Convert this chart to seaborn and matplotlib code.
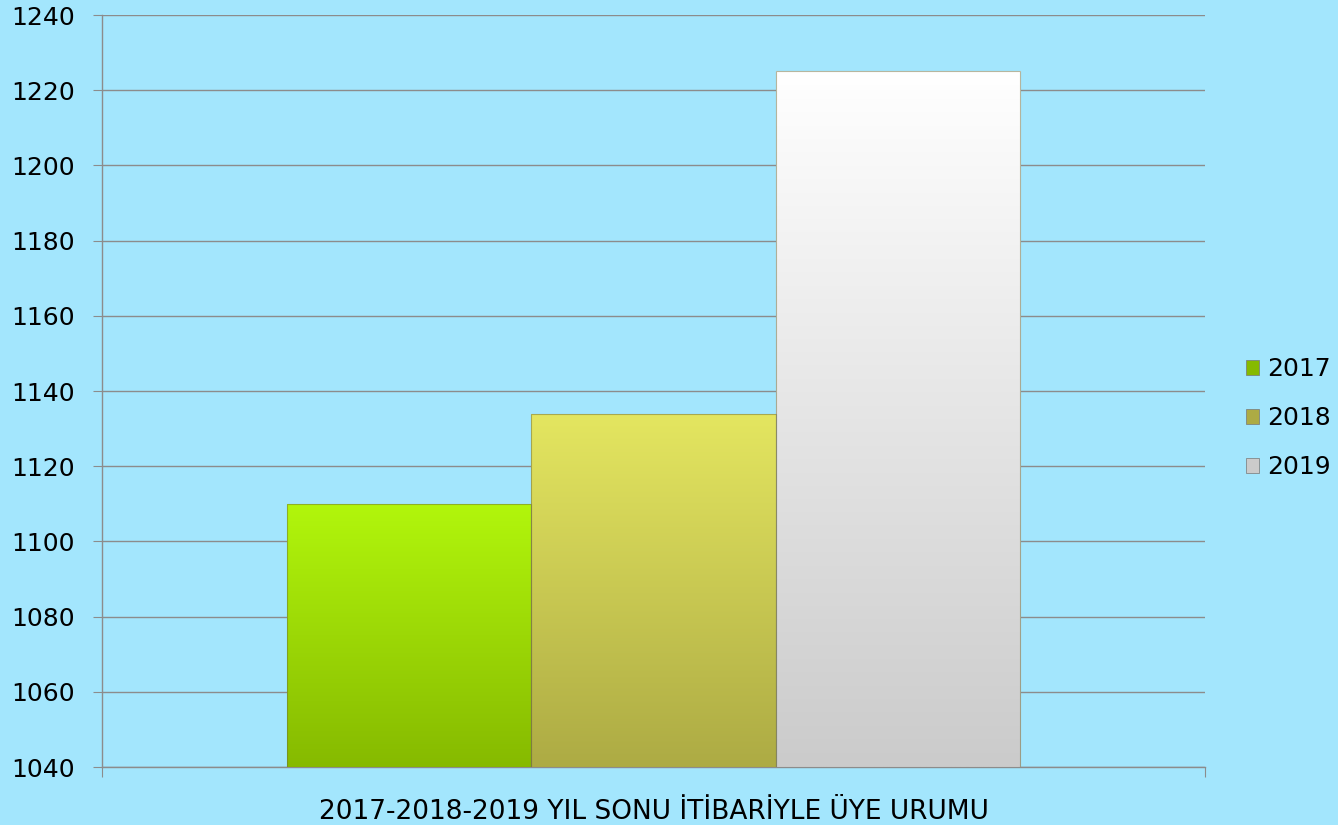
import numpy as np
import pandas as pd
import seaborn as sns
import matplotlib.pyplot as plt
from matplotlib.colors import LinearSegmentedColormap

# data
years = ["2017", "2018", "2019"]
members = [1110, 1134, 1225]
category = "2017-2018-2019 YIL SONU İTİBARİYLE ÜYE URUMU"

top_colors = ["#b2f60c", "#e4e660", "#ffffff"]
bottom_colors = ["#86ba00", "#adab44", "#cbcbcb"]
bg = "#a3e6fd"

df = pd.DataFrame({"cat": [category] * 3, "year": years, "members": members})

sns.set_style("white")
plt.rcParams["font.family"] = ["DejaVu Sans"]
plt.rcParams["text.color"] = "black"
plt.rcParams["axes.labelcolor"] = "black"
plt.rcParams["xtick.color"] = "black"
plt.rcParams["ytick.color"] = "black"

fig = plt.figure(figsize=(13.38, 8.25), dpi=100, facecolor=bg)
ax = fig.add_axes([0.0762, 0.0703, 0.8244, 0.9115])
ax.set_facecolor(bg)

sns.barplot(data=df, x="cat", y="members", hue="year", palette=bottom_colors,
            width=0.665, ax=ax, legend=False, edgecolor="none", zorder=3)

ax.set_ylim(1040, 1240)
ax.set_xlim(-0.5, 0.5)
ax.set_yticks(np.arange(1040, 1241, 20))
ax.grid(axis="y", color="#8c8c8c", linewidth=1.0, zorder=0)
ax.set_axisbelow(True)

# gradient fill for each bar, clipped to the bar
for patch, ctop, cbot in zip(ax.patches, top_colors, bottom_colors):
    x0, y0 = patch.get_x(), patch.get_y()
    w, h = patch.get_width(), patch.get_height()
    cmap = LinearSegmentedColormap.from_list("g", [cbot, ctop])
    grad = np.linspace(0, 1, 256).reshape(-1, 1)
    im = ax.imshow(grad, cmap=cmap, extent=[x0, x0 + w, 1040, y0 + h],
                   origin="lower", aspect="auto", zorder=4)
    im.set_clip_path(patch)
    ax.add_patch(plt.Rectangle((x0, 1040), w, y0 + h - 1040, fill=False,
                               edgecolor="#6e6e40", linewidth=0.8, alpha=0.5, zorder=5))

ax.set_aspect("auto")
ax.set_xticks([-0.5, 0.5])
ax.set_xticklabels(["", ""])
ax.set_xlabel(category, fontsize=19, labelpad=12, color="black")
ax.set_ylabel("")

for s in ["top", "right"]:
    ax.spines[s].set_visible(False)
for s in ["left", "bottom"]:
    ax.spines[s].set_color("#8c8c8c")
    ax.spines[s].set_linewidth(1.0)
ax.tick_params(axis="y", length=6.5, color="#8c8c8c", labelcolor="black",
               labelsize=18, pad=13, left=True)
ax.tick_params(axis="x", length=7.5, color="#8c8c8c", bottom=True)

handles = [plt.Rectangle((0, 0), 1, 1, facecolor=c, edgecolor="#777777", linewidth=0.5)
           for c in bottom_colors]
fig.legend(handles, years, loc="center left", bbox_to_anchor=(0.931, 0.493),
           frameon=False, fontsize=18, handlelength=0.55, handleheight=0.55,
           handletextpad=0.3, labelspacing=1.0, borderpad=0, borderaxespad=0)

fig.savefig("out.png", dpi=100, facecolor=bg)
